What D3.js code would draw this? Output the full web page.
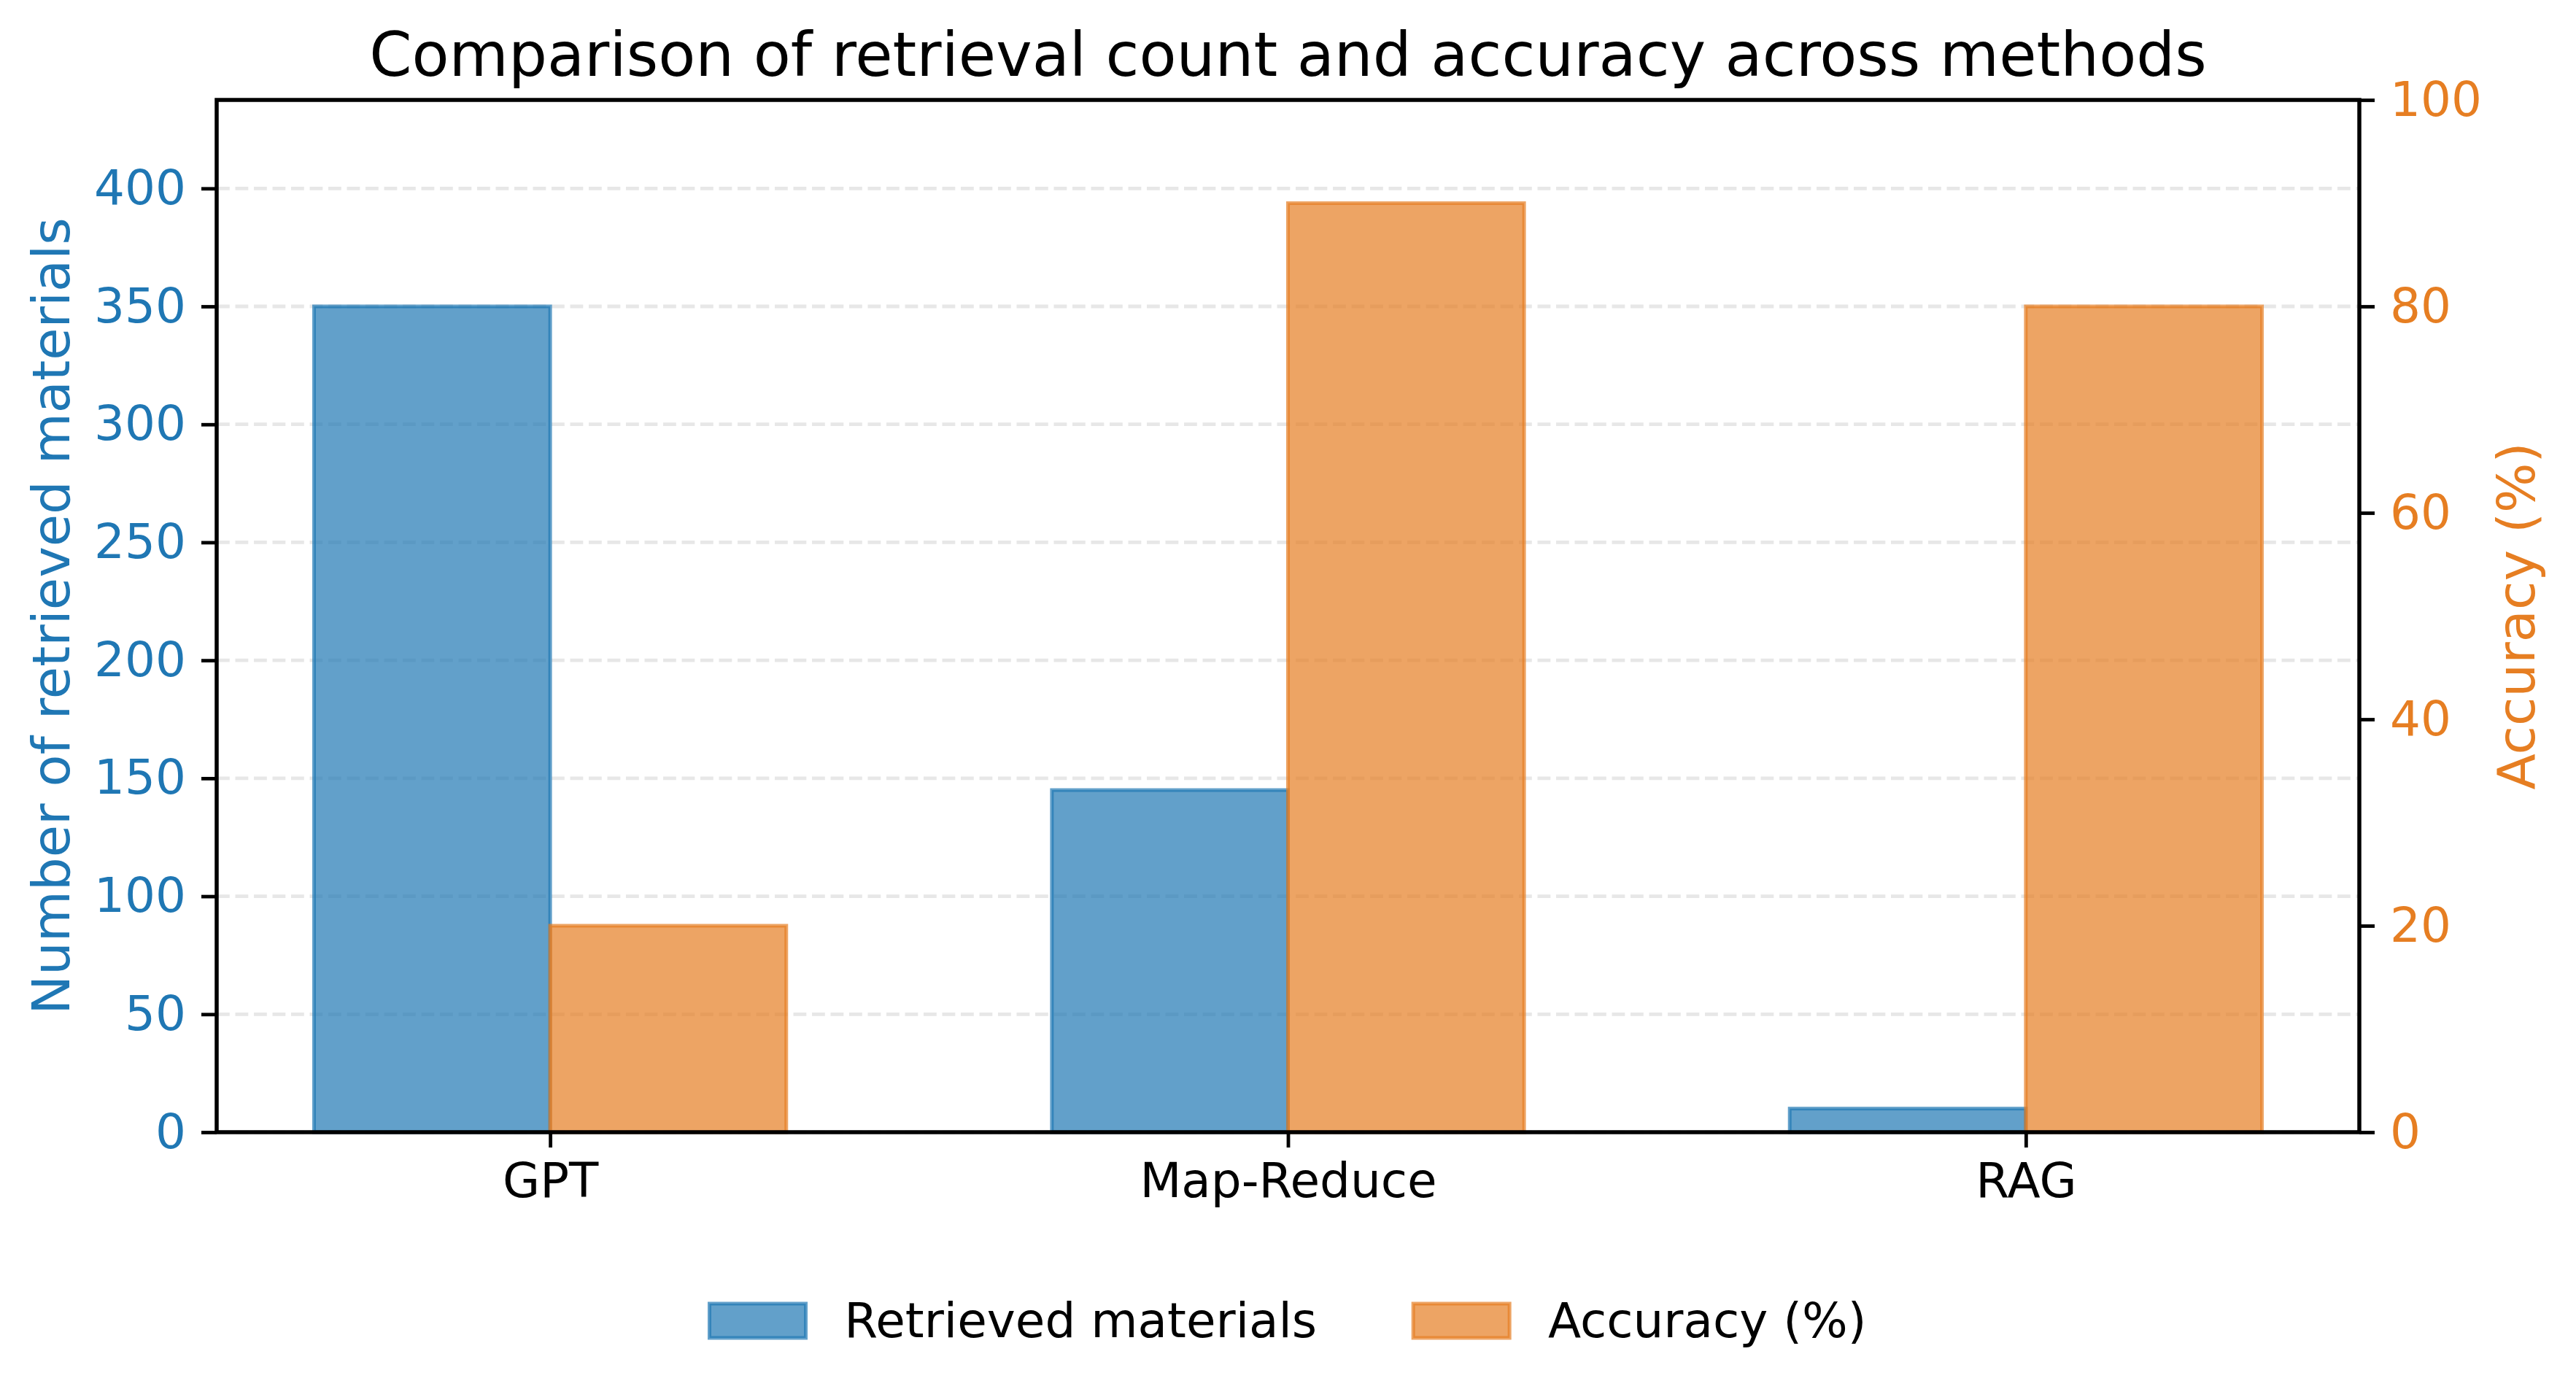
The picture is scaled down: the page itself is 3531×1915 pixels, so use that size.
<!DOCTYPE html>
<html>
<head>
<meta charset="utf-8">
<script src="https://cdn.jsdelivr.net/npm/d3@7"></script>
<style>
  html, body { margin: 0; padding: 0; background: #fff; }
  svg { display: block; font-family: "DejaVu Sans", sans-serif; }
</style>
</head>
<body>
<svg id="chart" width="3531" height="1915"></svg>
<script>
// ---- data ----
const methods = ["GPT", "Map-Reduce", "RAG"];
const retrieved = [350, 145, 10];
const accuracy = [20, 90, 80];
const leftTicks = [0, 50, 100, 150, 200, 250, 300, 350, 400];
const rightTicks = [0, 20, 40, 60, 80, 100];
const seriesNames = ["Retrieved materials", "Accuracy (%)"];
const titleText = "Comparison of retrieval count and accuracy across methods";
const leftLabel = "Number of retrieved materials";
const rightLabel = "Accuracy (%)";

// ---- style ----
const blue = "#1f77b4", orange = "#e67e22";
const barW = 0.32;
const plot = { left: 297, right: 3234, top: 137, bottom: 1552 };
const tickFont = 66, labelFont = 72, titleFont = 83.5;

const svg = d3.select("#chart");

const margin = 0.05 * (methods.length - 1 + 2 * barW);
const x = d3.scaleLinear()
  .domain([-barW - margin, methods.length - 1 + barW + margin])
  .range([plot.left, plot.right]);
const yL = d3.scaleLinear().domain([0, d3.max(retrieved) * 1.25]).range([plot.bottom, plot.top]);
const yR = d3.scaleLinear().domain([0, 100]).range([plot.bottom, plot.top]);

// grid (left axis ticks)
svg.append("g").selectAll("line").data(leftTicks).join("line")
  .attr("x1", plot.left).attr("x2", plot.right)
  .attr("y1", d => yL(d)).attr("y2", d => yL(d))
  .attr("stroke", "#b0b0b0").attr("stroke-opacity", 0.3)
  .attr("stroke-width", 4.8).attr("stroke-dasharray", "17.8,7.7");

// bars
const barStyle = (sel, color) => sel
  .attr("fill", color).attr("fill-opacity", 0.7)
  .attr("stroke", color).attr("stroke-opacity", 0.7).attr("stroke-width", 5);

svg.append("g").selectAll("rect").data(retrieved).join("rect")
  .attr("x", (d, i) => x(i - barW)).attr("width", (d, i) => x(i) - x(i - barW))
  .attr("y", d => yL(d)).attr("height", d => yL(0) - yL(d))
  .call(barStyle, blue);

svg.append("g").selectAll("rect").data(accuracy).join("rect")
  .attr("x", (d, i) => x(i)).attr("width", (d, i) => x(i + barW) - x(i))
  .attr("y", d => yR(d)).attr("height", d => yR(0) - yR(d))
  .call(barStyle, orange);

// axes
const styleAxis = (g, color) => {
  g.select(".domain").remove();
  g.selectAll(".tick line").attr("stroke", "#000").attr("stroke-width", 4.8);
  g.selectAll(".tick text").attr("fill", color).style("font-size", tickFont + "px")
    .style("font-family", "DejaVu Sans");
};

svg.append("g").attr("transform", `translate(${plot.left},0)`)
  .call(d3.axisLeft(yL).tickValues(leftTicks).tickSize(21).tickPadding(21).tickFormat(d3.format("d")))
  .call(g => styleAxis(g, blue));

svg.append("g").attr("transform", `translate(${plot.right},0)`)
  .call(d3.axisRight(yR).tickValues(rightTicks).tickSize(21).tickPadding(21).tickFormat(d3.format("d")))
  .call(g => styleAxis(g, orange));

svg.append("g").attr("transform", `translate(0,${plot.bottom})`)
  .call(d3.axisBottom(x).tickValues(methods.map((m, i) => i)).tickSize(21).tickPadding(21)
    .tickFormat(i => methods[i]))
  .call(g => styleAxis(g, "#000"));

// spines
svg.append("rect")
  .attr("x", plot.left).attr("y", plot.top)
  .attr("width", plot.right - plot.left).attr("height", plot.bottom - plot.top)
  .attr("fill", "none").attr("stroke", "#000").attr("stroke-width", 5.5);

// title
svg.append("text").attr("x", (plot.left + plot.right) / 2).attr("y", 104)
  .attr("text-anchor", "middle").style("font-size", titleFont + "px").attr("fill", "#000")
  .text(titleText);

// axis labels
svg.append("text").attr("transform", `translate(95,${(plot.top + plot.bottom) / 2}) rotate(-90)`)
  .attr("text-anchor", "middle").style("font-size", labelFont + "px").attr("fill", blue)
  .text(leftLabel);
svg.append("text").attr("transform", `translate(${plot.right + 240},${(plot.top + plot.bottom) / 2}) rotate(-90)`)
  .attr("text-anchor", "middle").style("font-size", labelFont + "px").attr("fill", orange)
  .text(rightLabel);

// legend
const leg = svg.append("g");
const hl = 2 * tickFont, pad = 0.8 * tickFont, colSp = 2 * tickFont;
const items = leg.selectAll("g").data(seriesNames).join("g");
items.append("rect")
  .attr("y", 1787).attr("width", hl).attr("height", 47)
  .each(function (d, i) { d3.select(this).call(barStyle, i === 0 ? blue : orange); });
items.append("text").attr("x", hl + pad).attr("y", 1833)
  .style("font-size", tickFont + "px").attr("fill", "#000").text(d => d);
const widths = [];
items.each(function () {
  widths.push(hl + pad + d3.select(this).select("text").node().getComputedTextLength());
});
const total = d3.sum(widths) + colSp * (widths.length - 1);
let start = (plot.left + plot.right) / 2 - total / 2;
items.attr("transform", (d, i) => {
  const t = `translate(${start},0)`;
  start += widths[i] + colSp;
  return t;
});
</script>
</body>
</html>
